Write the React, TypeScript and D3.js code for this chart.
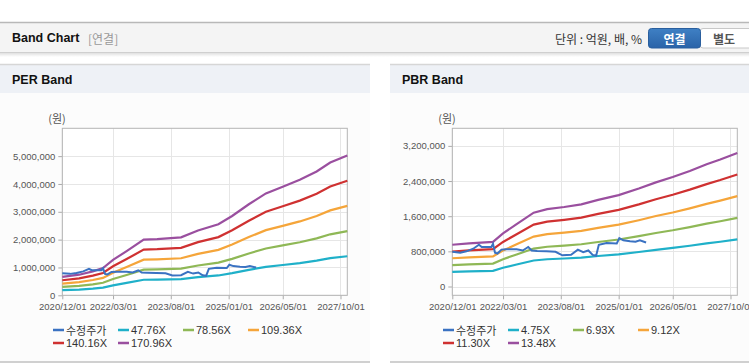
import React, { useRef, useEffect } from "react"
import * as d3 from "d3"

// series colors: price, then the five bands from low to high multiple
const colors = ["#3a72c2", "#1fb0c9", "#8fb856", "#f5a53a", "#cf3131", "#9a4f9f"]

// adjusted close price (수정주가), shared by both charts
const priceDates = [
    "2020-12-01", "2021-02-10", "2021-04-07", "2021-06-07", "2021-07-28", "2021-08-22",
    "2021-11-16", "2021-12-01", "2021-12-19", "2022-01-10", "2022-02-15", "2022-04-01",
    "2022-07-01", "2022-08-25", "2022-10-13", "2022-11-13", "2023-01-01", "2023-03-25",
    "2023-06-15", "2023-08-15", "2023-11-01", "2024-01-01", "2024-02-18", "2024-04-04",
    "2024-05-13", "2024-06-13", "2024-07-07", "2024-09-15", "2024-12-15", "2025-01-07",
    "2025-02-12", "2025-04-13", "2025-06-01", "2025-07-10", "2025-09-04",
]
const priceValues = [
    790000, 770000, 800000, 860000, 950000, 900000,
    900000, 970000, 770000, 750000, 840000, 850000,
    850000, 820000, 900000, 820000, 810000, 800000,
    790000, 710000, 720000, 840000, 780000, 820000,
    720000, 700000, 950000, 990000, 980000, 1100000,
    1050000, 1030000, 1020000, 1050000, 1000000,
]

// PER band: EPS, times the legend multiples
const perDates = [
    "2020-12-01", "2021-05-01", "2021-09-01", "2021-12-01", "2022-03-01", "2022-07-01",
    "2022-12-01", "2023-04-01", "2023-11-01", "2024-04-01", "2024-10-01", "2025-02-01",
    "2025-07-01", "2025-12-01", "2026-05-01", "2026-10-01", "2027-03-01", "2027-07-01",
    "2027-12-01",
]
const perEps = [
    3860, 4330, 5030, 5730, 7430, 9300,
    11700, 11820, 12170, 13630, 14920, 16670,
    19130, 21410, 22810, 24270, 26030, 27900,
    29360,
]
const perMultiples = [47.76, 78.56, 109.36, 140.16, 170.96]
const perTicks = [0, 1000000, 2000000, 3000000, 4000000, 5000000]

// PBR band: BPS, times the legend multiples
const pbrDates = [
    "2020-12-01", "2021-05-01", "2021-12-01", "2022-03-01", "2022-07-01", "2022-12-01",
    "2023-04-01", "2023-09-01", "2024-02-01", "2024-07-01", "2025-01-01", "2025-07-01",
    "2025-12-01", "2026-05-01", "2026-10-01", "2027-03-01", "2027-07-01", "2027-12-01",
]
const pbrBps = [
    70470, 72700, 75300, 89760, 105340, 124630,
    130560, 134270, 138720, 146140, 154300, 165430,
    175820, 184720, 195100, 206230, 214390, 225520,
]
const pbrMultiples = [4.75, 6.93, 9.12, 11.3, 13.48]
const pbrTicks = [0, 800000, 1600000, 2400000, 3200000]

const xTicks = ["2020-12-01", "2022-03-01", "2023-08-01", "2025-01-01", "2026-05-01", "2027-10-01"]

const parse = d3.timeParse("%Y-%m-%d")
const fmtDate = d3.timeFormat("%Y/%m/%d")
const latin = "'Liberation Sans', Arial, sans-serif"
const korean = "'Noto Sans CJK KR', 'Liberation Sans', sans-serif"

const BandChart = ({title, dates, base, multiples, yDomain, yTicks, offset}) => {
    let element = useRef(null)

    useEffect(() => {
        let g = d3.select(element.current)
        g.selectAll("*").remove()

        let panelW = offset === 0 ? 370 : 370
        // panel background
        g.append("rect").attr("x", 0).attr("y", 64).attr("width", panelW).attr("height", 298).attr("fill", "#fcfcfc")
        g.append("rect").attr("x", 0).attr("y", 64).attr("width", panelW).attr("height", 29).attr("fill", "#eef1f6")
        g.append("line").attr("x1", 0).attr("x2", panelW).attr("y1", 64.5).attr("y2", 64.5).attr("stroke", "#d6d6d6").attr("stroke-width", 1.5)
        g.append("line").attr("x1", 0).attr("x2", panelW).attr("y1", 362).attr("y2", 362).attr("stroke", "#d0d0d0").attr("stroke-width", 2)
        g.append("text").attr("x", 12).attr("y", 80).attr("dominant-baseline", "central")
            .attr("font-family", latin).attr("font-weight", "bold").attr("font-size", 12.5).attr("fill", "#111")
            .text(title)

        let margin = {left: 62.3, right: 347.3, top: 128.3, bottom: 295.3}

        let x = d3.scaleTime()
            .domain([parse("2020-12-01"), parse("2027-12-01")])
            .range([margin.left, margin.right])
        let y = d3.scaleLinear()
            .domain(yDomain)
            .range([margin.bottom, margin.top])

        g.append("rect").attr("x", margin.left).attr("y", margin.top)
            .attr("width", margin.right - margin.left).attr("height", margin.bottom - margin.top)
            .attr("fill", "#fff")

        // grid
        g.append("g").selectAll("line").data(yTicks).enter().append("line")
            .attr("x1", margin.left).attr("x2", margin.right)
            .attr("y1", d => Math.round(y(d)) + 0.5).attr("y2", d => Math.round(y(d)) + 0.5)
            .attr("stroke", "#e6e6e6")
        g.append("g").selectAll("line").data(xTicks).enter().append("line")
            .attr("x1", d => Math.round(x(parse(d))) + 0.5).attr("x2", d => Math.round(x(parse(d))) + 0.5)
            .attr("y1", margin.top).attr("y2", margin.bottom)
            .attr("stroke", "#e6e6e6")

        // y axis
        let yAxis = g.append("g")
            .attr("transform", "translate(" + margin.left + ",0)")
            .call(d3.axisLeft(y).tickValues(yTicks).tickSize(4).tickPadding(3).tickFormat(d3.format(",")))
        yAxis.select(".domain").remove()
        yAxis.selectAll(".tick line").attr("stroke", "#aaa")
        yAxis.selectAll("text").attr("font-family", latin).attr("font-size", 9.5).attr("fill", "#555")

        // x axis
        let xAxis = g.append("g")
            .attr("transform", "translate(0," + margin.bottom + ")")
            .call(d3.axisBottom(x).tickValues(xTicks.map(parse)).tickSize(4).tickPadding(4).tickFormat(fmtDate))
        xAxis.select(".domain").remove()
        xAxis.selectAll(".tick line").attr("stroke", "#aaa")
        xAxis.selectAll("text").attr("font-family", latin).attr("font-size", 9.5).attr("fill", "#555")

        // frame
        g.append("rect").attr("x", margin.left).attr("y", margin.top)
            .attr("width", margin.right - margin.left).attr("height", margin.bottom - margin.top)
            .attr("fill", "none").attr("stroke", "#b4b4b4")

        g.append("text").attr("x", 57).attr("y", 118).attr("text-anchor", "middle").attr("dominant-baseline", "central")
            .attr("font-family", korean).attr("font-size", 11).attr("fill", "#555")
            .text("(원)")

        // bands
        let line = d3.line()
            .x(d => x(d[0]))
            .y(d => y(d[1]))

        multiples.forEach((m, i) => {
            let pts = dates.map((d, j) => [parse(d), base[j] * m])
            g.append("path").datum(pts)
                .attr("d", line)
                .attr("fill", "none")
                .attr("stroke", colors[i + 1])
                .attr("stroke-width", 2.2)
        })

        let pricePts = priceDates.map((d, j) => [parse(d), priceValues[j]])
        g.append("path").datum(pricePts)
            .attr("d", line)
            .attr("fill", "none")
            .attr("stroke", colors[0])
            .attr("stroke-width", 2)

        // legend
        let labels = ["수정주가"].concat(multiples.map(m => m.toFixed(2) + "X"))
        let items = g.append("g").selectAll("g").data(labels).enter().append("g")
            .attr("transform", (d, i) => "translate(" + (53 + (i % 4) * 65) + "," + (330 + Math.floor(i / 4) * 13) + ")")
        items.append("line").attr("x1", 0).attr("x2", 11).attr("y1", 0).attr("y2", 0)
            .attr("stroke", (d, i) => colors[i]).attr("stroke-width", 2.5)
        items.append("text").attr("x", 13).attr("y", 0).attr("dominant-baseline", "central")
            .attr("font-family", (d, i) => i === 0 ? korean : latin)
            .attr("font-size", 11).attr("fill", "#333")
            .text(d => d)

        return () => {
            if(element.current) {
                d3.select(element.current).selectAll("*").remove()
            }
        }
    })

    return <g ref={element} transform={"translate(" + offset + ",0)"}></g>
}

const App = () => {
    return (
        <svg width={749} height={364} style={{position: "absolute", left: 0, top: 0, background: "#fff"}}>
            <defs>
                <linearGradient id="shadow" x1="0" x2="0" y1="0" y2="1">
                    <stop offset="0" stopColor="#000" stopOpacity="0.12" />
                    <stop offset="1" stopColor="#000" stopOpacity="0" />
                </linearGradient>
                <linearGradient id="btn" x1="0" x2="0" y1="0" y2="1">
                    <stop offset="0" stopColor="#3f80c4" />
                    <stop offset="1" stopColor="#2a63a8" />
                </linearGradient>
            </defs>
            <rect x={0} y={22} width={749} height={30} fill="#f4f4f4" />
            <line x1={0} x2={749} y1={22.5} y2={22.5} stroke="#b8b8b8" strokeWidth={1.5} />
            <line x1={0} x2={749} y1={52.5} y2={52.5} stroke="#cfcfcf" />
            <rect x={0} y={53} width={749} height={4} fill="url(#shadow)" />
            <text x={12} y={38} dominantBaseline="central" fontFamily={latin} fontWeight="bold" fontSize={12.5} fill="#111">Band Chart</text>
            <text x={88} y={38} dominantBaseline="central" fontFamily={korean} fontSize={12} fill="#999">[연결]</text>
            <text x={642} y={38} textAnchor="end" dominantBaseline="central" fontFamily={korean} fontSize={12} fill="#333">단위 : 억원, 배, %</text>
            <rect x={700} y={28.5} width={52} height={19.5} rx={3} fill="#fff" stroke="#c8c8c8" />
            <rect x={648.5} y={28.5} width={52} height={19.5} rx={3} fill="url(#btn)" stroke="#2a5f9e" />
            <text x={674.5} y={38.5} textAnchor="middle" dominantBaseline="central" fontFamily={korean} fontWeight="bold" fontSize={12} fill="#fff">연결</text>
            <text x={724} y={38.5} textAnchor="middle" dominantBaseline="central" fontFamily={korean} fontWeight="bold" fontSize={12} fill="#555">별도</text>
            <BandChart title="PER Band" dates={perDates} base={perEps} multiples={perMultiples}
                yDomain={[0, 6000000]} yTicks={perTicks} offset={0} />
            <BandChart title="PBR Band" dates={pbrDates} base={pbrBps} multiples={pbrMultiples}
                yDomain={[-200000, 3600000]} yTicks={pbrTicks} offset={390} />
        </svg>
    )
}

export default App
